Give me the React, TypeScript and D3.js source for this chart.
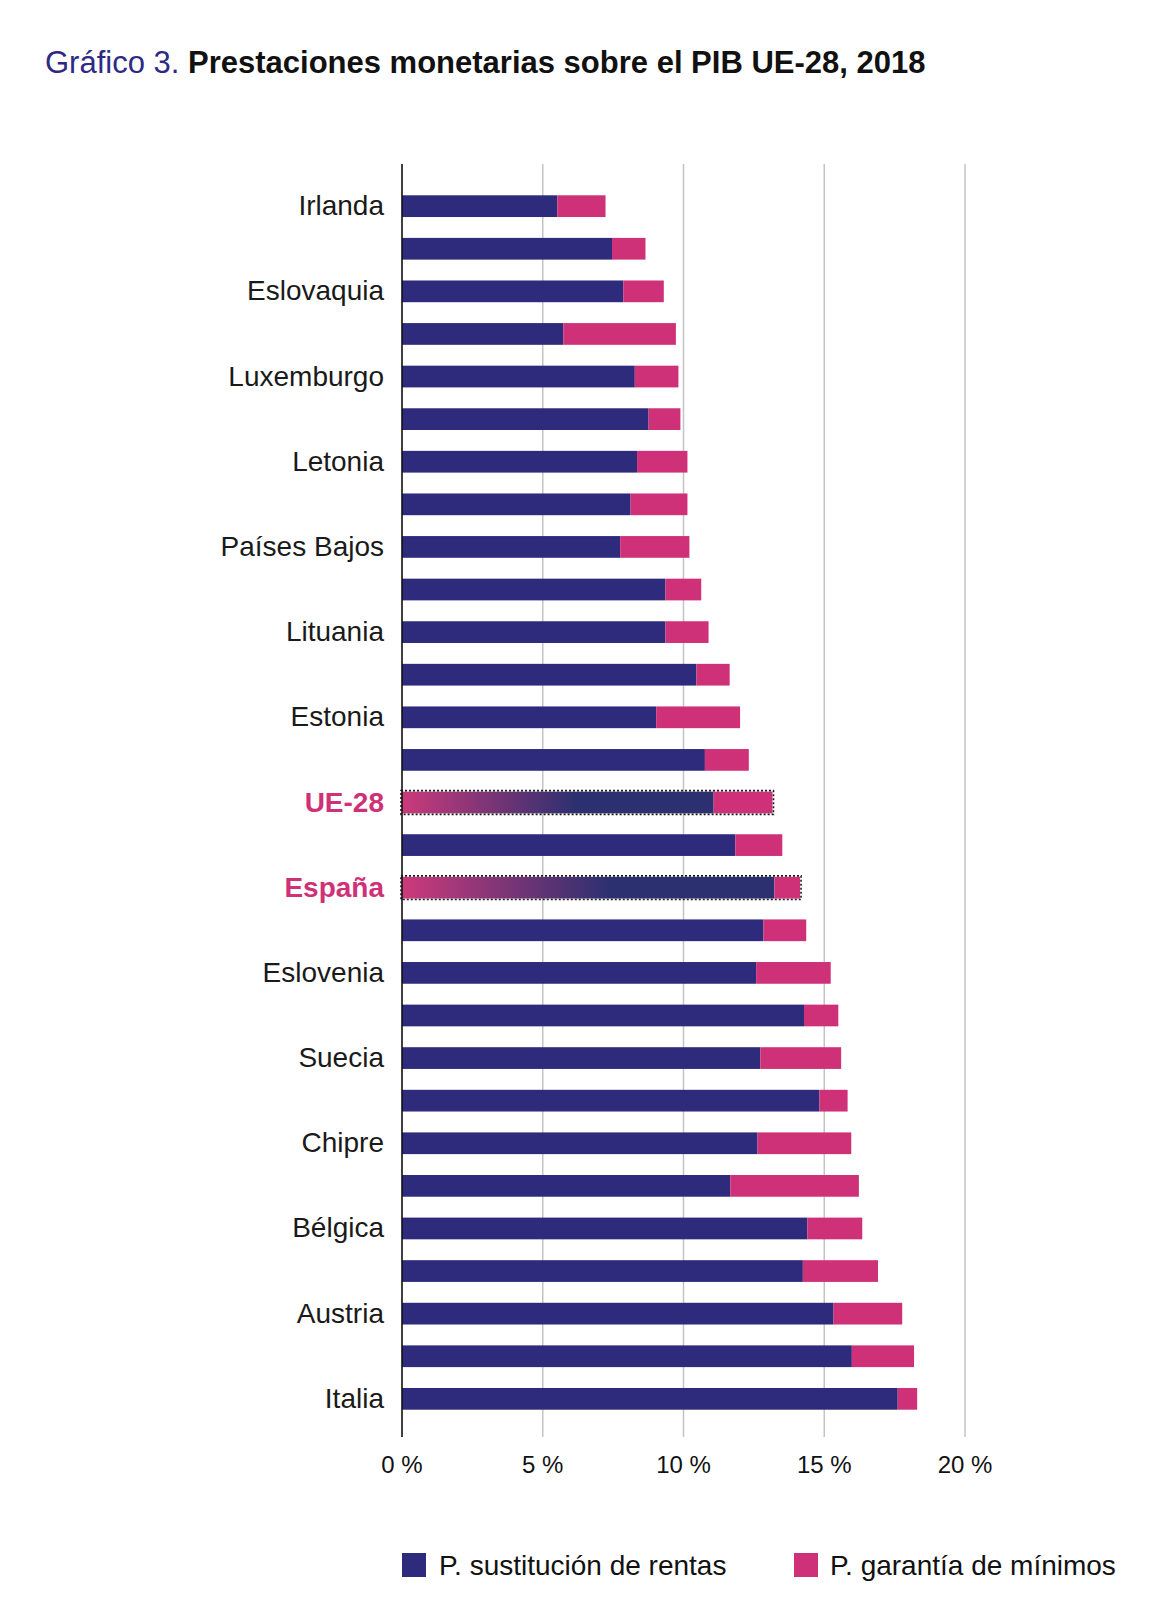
import React from "react";
import * as d3 from "d3";

const labels = [
  "Irlanda", "", "Eslovaquia", "", "Luxemburgo", "", "Letonia", "", "Países Bajos", "",
  "Lituania", "", "Estonia", "", "UE-28", "", "España", "", "Eslovenia", "",
  "Suecia", "", "Chipre", "", "Bélgica", "", "Austria", "", "Italia",
];
const highlighted = ["UE-28", "España"];

const sustitucion = [
  5.52, 7.46, 7.86, 5.73, 8.27, 8.76, 8.35, 8.12, 7.75, 9.36,
  9.36, 10.46, 9.03, 10.76, 11.07, 11.84, 13.23, 12.84, 12.58, 14.28,
  12.73, 14.83, 12.63, 11.66, 14.4, 14.24, 15.33, 15.98, 17.61,
];
const garantia = [
  1.71, 1.19, 1.44, 4.0, 1.55, 1.13, 1.79, 2.02, 2.46, 1.27,
  1.53, 1.18, 2.98, 1.56, 2.09, 1.67, 0.91, 1.52, 2.65, 1.22,
  2.87, 1.0, 3.33, 4.57, 1.95, 2.67, 2.44, 2.21, 0.69,
];
const xTicks = [0, 5, 10, 15, 20];
const seriesNames = ["P. sustitución de rentas", "P. garantía de mínimos"];

const BLUE = "#2E2A7C";
const PINK = "#CF3178";
const FONT = "'Liberation Sans', Arial, sans-serif";

export default function App() {
  const W = 1166, H = 1616;
  const x = d3.scaleLinear().domain([0, 20]).range([402, 965]);
  const idx = labels.map((_, i) => i);
  const y = d3.scaleBand<number>().domain(idx).range([174, 1431]).paddingInner(0.49).paddingOuter(0.5);
  const bw = y.bandwidth();
  const gridTop = 164, gridBottom = 1437;

  return (
    <svg width={W} height={H} style={{ position: "absolute", left: 0, top: 0, background: "#fff" }} fontFamily={FONT}>
      <defs>
        <linearGradient id="hl" x1="0" x2="1" y1="0" y2="0">
          <stop offset="0" stopColor="#CC3A7B" />
          <stop offset="0.56" stopColor="#2C3070" />
          <stop offset="1" stopColor="#2C3070" />
        </linearGradient>
      </defs>
      <rect width={W} height={H} fill="#fff" />
      <text x={45} y={73} fontSize={31}>
        <tspan fill="#2E2A84">Gráfico 3.</tspan>
        <tspan fill="#111" fontWeight="bold"> Prestaciones monetarias sobre el PIB UE-28, 2018</tspan>
      </text>

      {xTicks.filter((t) => t > 0).map((t) => (
        <line key={t} x1={x(t)} x2={x(t)} y1={gridTop} y2={gridBottom} stroke="#c4c4c4" strokeWidth={1.5} />
      ))}

      {idx.map((i) => {
        const y0 = y(i)!;
        const a = sustitucion[i];
        const b = garantia[i];
        const hl = highlighted.includes(labels[i]);
        return (
          <g key={i}>
            <rect x={x(0)} y={y0} width={x(a) - x(0)} height={bw} fill={hl ? "url(#hl)" : BLUE} />
            <rect x={x(a)} y={y0} width={x(a + b) - x(a)} height={bw} fill={PINK} />
            {hl && (
              <rect x={x(0) - 1} y={y0 - 1} width={x(a + b) - x(0) + 2} height={bw + 2}
                fill="none" stroke="#1a1a1a" strokeWidth={1.6} strokeDasharray="2,2" />
            )}
            {labels[i] && (
              <text x={384} y={y0 + bw / 2 + 9} textAnchor="end" fontSize={28}
                fill={hl ? PINK : "#1a1a1a"} fontWeight={hl ? "bold" : "normal"}>
                {labels[i]}
              </text>
            )}
          </g>
        );
      })}

      <line x1={x(0)} x2={x(0)} y1={gridTop} y2={gridBottom} stroke="#111" strokeWidth={1.6} />

      {xTicks.map((t) => (
        <text key={t} x={x(t)} y={1473} textAnchor="middle" fontSize={24} fill="#111">
          {`${t} %`}
        </text>
      ))}

      <g>
        <rect x={402} y={1553} width={24} height={24} fill={BLUE} />
        <text x={439} y={1575} fontSize={28} fill="#111">{seriesNames[0]}</text>
        <rect x={794} y={1553} width={24} height={24} fill={PINK} />
        <text x={830} y={1575} fontSize={28} fill="#111">{seriesNames[1]}</text>
      </g>
    </svg>
  );
}
